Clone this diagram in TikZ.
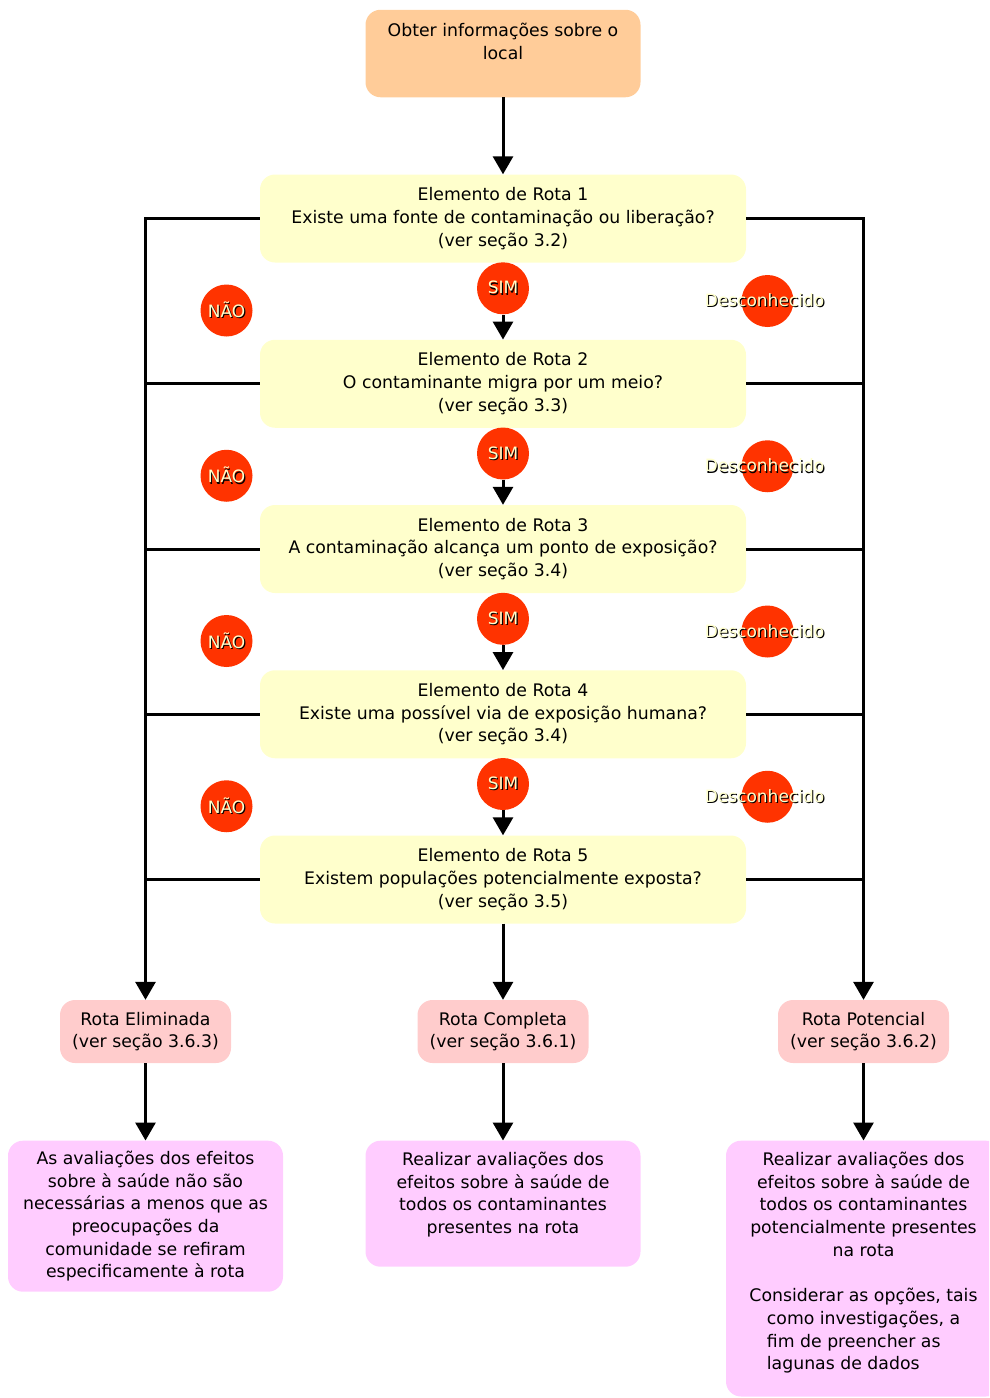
\documentclass[tikz,border=0pt]{standalone}
\usepackage{fontspec}
\setmainfont{DejaVu Sans}
\usetikzlibrary{arrows.meta,positioning}
\definecolor{laranja}{HTML}{FFCC99}
\definecolor{amarelo}{HTML}{FFFFCC}
\definecolor{rosa}{HTML}{FFCCCC}
\definecolor{lilas}{HTML}{FFCCFF}
\definecolor{vermelho}{HTML}{FF3300}
\definecolor{creme}{HTML}{FFFFCC}
\newcommand\sombra[1]{\rlap{\kern1.2pt\raisebox{-1.2pt}{\color{black}#1}}#1}
\tikzset{
  >={Triangle[length=18pt,width=20pt]},
  % caixas
  caixa/.style={rectangle,rounded corners=15pt,inner sep=0pt,align=center,
                font=\fontsize{17.3pt}{22.7pt}\selectfont},
  alto/.style 2 args={inner ysep=#1,text height=#2},
  inicio/.style={caixa,fill=laranja,minimum width=275pt,minimum height=87.5pt,
                 alto={14.2pt}{35.7pt},text depth=23.4pt},
  elem/.style={caixa,fill=amarelo,minimum width=486pt,minimum height=88pt},
  rota/.style={caixa,fill=rosa,minimum width=171pt,minimum height=63pt},
  acao/.style={caixa,fill=lilas,minimum width=275pt},
  % rotulos
  bola/.style={circle,fill=vermelho,minimum size=52pt,inner sep=0pt,text=creme,
               font=\fontsize{17pt}{18pt}\selectfont},
  % setas
  seta/.style={->,line width=3pt},
  linha/.style={line width=3pt},
}
\begin{document}
\begin{tikzpicture}[x=1pt,y=-1pt]
  \useasboundingbox (0,0) rectangle (989,1398);
  \clip (0,0) rectangle (989,1398);
  \node[inicio] (info) at (503,53.5) {Obter informações sobre o\\local};
  % elementos de rota
  \node[elem] (el1) at (503,218.5) {Elemento de Rota 1\\Existe uma fonte de contaminação ou liberação?\\(ver seção 3.2)};
  \node[elem] (el2) at (503,383.75) {Elemento de Rota 2\\O contaminante migra por um meio?\\(ver seção 3.3)};
  \node[elem] (el3) at (503,549) {Elemento de Rota 3\\A contaminação alcança um ponto de exposição?\\(ver seção 3.4)};
  \node[elem] (el4) at (503,714.25) {Elemento de Rota 4\\Existe uma possível via de exposição humana?\\(ver seção 3.4)};
  \node[elem] (el5) at (503,879.5) {Elemento de Rota 5\\Existem populações potencialmente exposta?\\(ver seção 3.5)};
  % respostas
  \node[bola] (sim1) at (503,288.3) {\sombra{SIM}};
  \node[bola] (sim2) at (503,453.5) {\sombra{SIM}};
  \node[bola] (sim3) at (503,618.8) {\sombra{SIM}};
  \node[bola] (sim4) at (503,784) {\sombra{SIM}};
  \node[bola] (nao1) at (226.5,310.5) {\sombra{NÃO}};
  \node[bola] (nao2) at (226.5,475.75) {\sombra{NÃO}};
  \node[bola] (nao3) at (226.5,641) {\sombra{NÃO}};
  \node[bola] (nao4) at (226.5,806.25) {\sombra{NÃO}};
  \node[bola] (desc1) at (767.5,301) {\makebox[0pt]{\sombra{Desconhecido}\hspace*{6pt}}};
  \node[bola] (desc2) at (767.5,466.25) {\makebox[0pt]{\sombra{Desconhecido}\hspace*{6pt}}};
  \node[bola] (desc3) at (767.5,631.5) {\makebox[0pt]{\sombra{Desconhecido}\hspace*{6pt}}};
  \node[bola] (desc4) at (767.5,796.75) {\makebox[0pt]{\sombra{Desconhecido}\hspace*{6pt}}};
  % resultados
  \node[rota] (elim) at (145.5,1031.5) {Rota Eliminada\\(ver seção 3.6.3)};
  \node[rota] (comp) at (503,1031.5) {Rota Completa\\(ver seção 3.6.1)};
  \node[rota] (pot) at (863.5,1031.5) {Rota Potencial\\(ver seção 3.6.2)};
  \node[acao,minimum height=151pt] (aval1) at (145.5,1216.2)
    {As avaliações dos efeitos\\sobre à saúde não são\\necessárias a menos que as\\preocupações da\\comunidade se refiram\\especificamente à rota};
  \node[acao,minimum height=126pt,alto={11.8pt}{81.1pt},text depth=21.3pt] (aval2) at (503,1203.7)
    {Realizar avaliações dos\\efeitos sobre à saúde de\\todos os contaminantes\\presentes na rota};
  \node[acao,minimum height=255.8pt,alto={11.8pt}{171.9pt},text depth=60.3pt] (aval3) at (863.5,1268.6)
    {Realizar avaliações dos\\efeitos sobre à saúde de\\todos os contaminantes\\potencialmente presentes\\na rota\\[22.7pt]Considerar as opções, tais\\\begin{tabular}[t]{@{}l@{}}como investigações, a\\fim de preencher as\\lagunas de dados\end{tabular}};
  % ligacoes
  \draw[seta] (info) -- (el1);
  \draw[seta] (sim1) -- (el2); \draw[seta] (sim2) -- (el3);
  \draw[seta] (sim3) -- (el4); \draw[seta] (sim4) -- (el5);
  \draw[seta] (el1.west) -| (elim.north);
  \draw[linha] (el2.west) -- (el2.west -| elim.north);
  \draw[linha] (el3.west) -- (el3.west -| elim.north);
  \draw[linha] (el4.west) -- (el4.west -| elim.north);
  \draw[linha] (el5.west) -- (el5.west -| elim.north);
  \draw[seta] (el1.east) -| (pot.north);
  \draw[linha] (el2.east) -- (el2.east -| pot.north);
  \draw[linha] (el3.east) -- (el3.east -| pot.north);
  \draw[linha] (el4.east) -- (el4.east -| pot.north);
  \draw[linha] (el5.east) -- (el5.east -| pot.north);
  \draw[seta] (el5) -- (comp);
  \draw[seta] (elim) -- (aval1); \draw[seta] (comp) -- (aval2); \draw[seta] (pot) -- (aval3);
\end{tikzpicture}
\end{document}
